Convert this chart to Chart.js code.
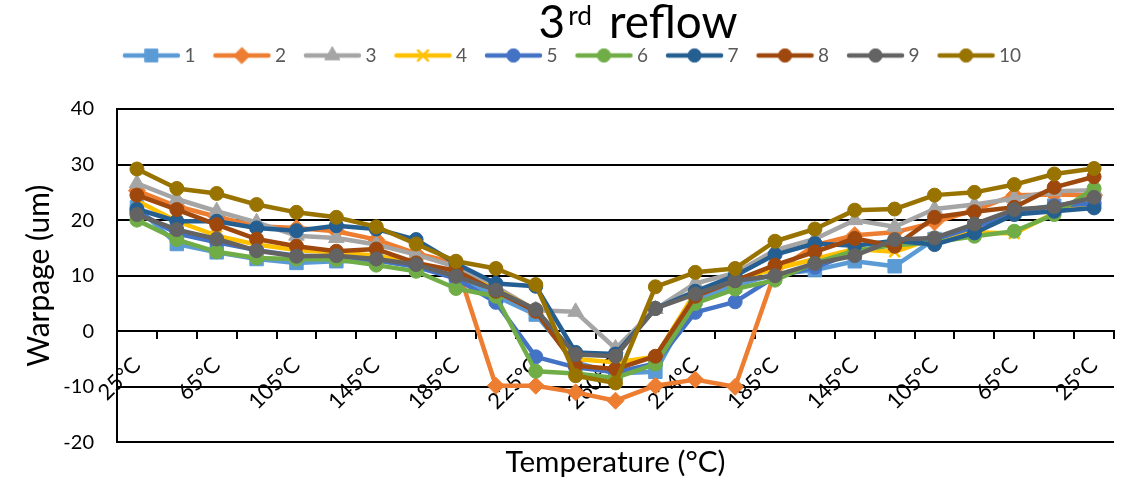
<!DOCTYPE html>
<html>
<head>
<meta charset="utf-8">
<script src="https://cdn.jsdelivr.net/npm/chart.js@4.4.1/dist/chart.umd.min.js"></script>
<style>
  html, body { margin: 0; padding: 0; background: #fff; }
  #wrap { width: 1127px; height: 482px; }
</style>
</head>
<body>
<div id="wrap"><canvas id="c" width="1127" height="482"></canvas></div>
<script>
// ---------- data ----------
const categories = ['25°C','45°C','65°C','85°C','105°C','125°C','145°C','165°C','185°C','205°C','225°C','245°C','260°C',
                    '245°C','224°C','205°C','185°C','165°C','145°C','125°C','105°C','85°C','65°C','45°C','25°C'];
const seriesNames = ['1','2','3','4','5','6','7','8','9','10'];
const s1  = [22.3,15.7,14.2,13.0,12.3,12.6,12.7,11.8,9.8,6.3,3.0,-5.6,-7.6,-7.3,5.8,8.2,10.3,11.0,12.6,11.7,16.6,18.8,21.6,22.6,23.6];
const s2  = [25.3,22.5,20.6,18.9,18.6,18.0,16.5,14.0,12.3,-9.8,-9.8,-11.0,-12.5,-9.8,-8.7,-10.0,10.6,15.5,17.3,17.8,19.6,21.8,24.5,24.6,24.5];
const s3  = [26.6,23.8,21.6,19.6,17.2,16.8,15.6,13.8,11.6,8.0,3.8,3.5,-3.1,4.0,8.6,10.5,14.6,16.6,20.0,18.8,22.0,22.8,23.9,25.2,25.4];
const s4  = [23.5,19.8,17.2,15.6,14.6,14.2,13.6,12.3,10.4,7.6,3.8,-5.0,-5.6,-4.6,7.0,9.3,11.2,13.0,14.8,14.3,16.8,17.8,17.6,21.3,23.3];
const s5  = [21.5,17.6,16.0,14.6,13.6,13.4,12.8,11.6,9.5,5.2,-4.6,-6.5,-7.4,-5.8,3.4,5.3,9.8,11.5,14.2,16.0,16.5,18.8,21.3,22.6,23.0];
const s6  = [20.0,16.5,14.3,13.2,13.0,12.9,11.9,10.8,7.7,6.3,-7.2,-7.6,-8.4,-5.9,5.0,7.6,9.2,12.3,14.5,15.5,16.0,17.1,18.0,21.0,25.7];
const s7  = [22.0,19.8,19.8,18.6,18.1,19.0,18.4,16.5,12.2,8.6,8.1,-3.8,-4.1,4.1,7.2,10.0,13.8,15.8,15.4,16.3,15.6,17.7,21.0,21.6,22.2];
const s8  = [24.5,21.9,19.2,16.6,15.3,14.4,14.8,12.3,10.9,7.2,3.6,-6.2,-6.8,-4.5,6.3,9.1,11.9,14.3,16.7,15.3,20.5,21.5,22.3,25.9,27.8];
const s9  = [21.0,18.3,16.6,14.5,13.5,13.6,13.0,12.0,9.9,7.4,3.9,-4.2,-4.5,4.1,6.7,9.1,10.0,12.2,13.6,16.5,16.8,19.3,21.9,22.4,24.1];
const s10 = [29.2,25.7,24.8,22.8,21.4,20.5,18.8,15.7,12.6,11.3,8.4,-8.0,-9.3,8.0,10.6,11.3,16.2,18.4,21.8,22.0,24.5,25.0,26.4,28.3,29.3];
const seriesValues = [s1, s2, s3, s4, s5, s6, s7, s8, s9, s10];
const yTickValues = [-20, -10, 0, 10, 20, 30, 40];
const titleMain = '3', titleSup = 'rd', titleRest = 'reflow';
const yTitle = 'Warpage (um)';
const xTitle = 'Temperature (°C)';

// ---------- styles ----------
const colors = ['#5B9BD5','#ED7D31','#A5A5A5','#FFC000','#4472C4','#70AD47','#255E91','#9E480E','#636363','#997300'];
const markers = ['rect','rectRot','triangle','crossRot','circle','circle','circle','circle','circle','circle'];
const markerRadius = [9.5, 8.5, 9, 7.5, 7, 7, 7, 7, 7, 7];
const markerBorder = [1, 1, 1, 2.5, 1, 1, 1, 1, 1, 1];
const FONT = 'Lato';

// fit a font size so that text spans a target width
const measureCtx = document.createElement('canvas').getContext('2d');
function fitSize(text, target, base) {
  measureCtx.font = base + 'px ' + FONT;
  const w = measureCtx.measureText(text).width;
  return w > 0 ? base * target / w : base;
}
const yTitleSize = fitSize(yTitle, 182, 26);
const xTitleSize = fitSize(xTitle, 220, 27);

function legendIcon(i) {
  const c = document.createElement('canvas');
  c.width = 64; c.height = 22;
  const g = c.getContext('2d');
  g.strokeStyle = colors[i]; g.lineWidth = 4.5; g.lineCap = 'round';
  g.beginPath(); g.moveTo(8, 11); g.lineTo(61, 11); g.stroke();
  g.fillStyle = colors[i]; g.strokeStyle = colors[i]; g.lineWidth = markerBorder[i];
  Chart.helpers.drawPoint(g, {pointStyle: markers[i], radius: markerRadius[i] * 0.95, borderWidth: markerBorder[i]}, 34.5, 11);
  return c;
}
const icons = seriesNames.map((_, i) => legendIcon(i));

const datasets = seriesNames.map((name, i) => ({
  label: name,
  data: seriesValues[i],
  borderColor: colors[i],
  backgroundColor: colors[i],
  borderWidth: 4.5,
  borderJoinStyle: 'round',
  borderCapStyle: 'round',
  tension: 0,
  pointStyle: markers[i],
  pointRadius: markerRadius[i],
  pointHoverRadius: markerRadius[i],
  pointBorderWidth: markerBorder[i],
  pointBackgroundColor: colors[i],
  pointBorderColor: colors[i],
  order: seriesNames.length - i
}));

const PLOT_TOP = 109;
const PAD_TOP = 28;
const PAD_LEFT = 21;
const PLOT_LEFT = 117;

const titlePlugin = {
  id: 'supTitle',
  afterDraw(chart) {
    const ctx = chart.ctx;
    ctx.save();
    ctx.fillStyle = '#000';
    ctx.textBaseline = 'alphabetic';
    ctx.textAlign = 'left';
    let bigSize = 42, smallSize = 24;
    const gap1 = 3, gap2 = 17;
    const widths = (b, s) => {
      ctx.font = b + 'px ' + FONT;
      const wm = ctx.measureText(titleMain).width, wr = ctx.measureText(titleRest).width;
      ctx.font = s + 'px ' + FONT;
      const ws = ctx.measureText(titleSup).width;
      return {wm, wr, ws, total: wm + gap1 + ws + gap2 + wr};
    };
    let w = widths(bigSize, smallSize);
    const k = (199 - gap1 - gap2) / (w.total - gap1 - gap2);
    bigSize *= k; smallSize *= k;
    w = widths(bigSize, smallSize);
    const area = chart.chartArea;
    const cx = (area.left + area.right) / 2 + 22.5;
    let x = cx - w.total / 2;
    const base = 38;
    ctx.font = bigSize + 'px ' + FONT; ctx.fillText(titleMain, x, base);
    x += w.wm + gap1;
    ctx.font = smallSize + 'px ' + FONT; ctx.fillText(titleSup, x, base - 13);
    x += w.ws + gap2;
    ctx.font = bigSize + 'px ' + FONT; ctx.fillText(titleRest, x, base);
    ctx.restore();
  }
};

new Chart(document.getElementById('c'), {
  type: 'line',
  data: { labels: categories, datasets },
  plugins: [titlePlugin],
  options: {
    responsive: false,
    devicePixelRatio: 1,
    animation: false,
    events: [],
    layout: { padding: { top: PAD_TOP, left: PAD_LEFT, right: 4, bottom: 0 } },
    scales: {
      x: {
        type: 'category',
        position: { y: 0 },
        offset: true,
        grid: { display: true, offset: true, drawOnChartArea: false, drawTicks: true, tickLength: 7, color: '#000', lineWidth: 2 },
        border: { display: true, color: '#000', width: 2 },
        ticks: {
          autoSkip: false, maxRotation: 45, minRotation: 45, padding: 14,
          font: { family: FONT, size: 22 }, color: '#000',
          callback: function(v, i) { return i % 2 === 0 ? this.getLabelForValue(v) : ''; }
        }
      },
      spacer: {
        type: 'category', axis: 'x', position: 'top', display: true,
        grid: { display: false }, border: { display: false }, ticks: { display: false },
        afterFit(s) {
          const lh = s.chart.legend ? s.chart.legend.height : 0;
          s.height = Math.max(0, PLOT_TOP - PAD_TOP - lh);
        }
      },
      y: {
        min: yTickValues[0], max: yTickValues[yTickValues.length - 1],
        afterBuildTicks(s) { s.ticks = yTickValues.map(v => ({ value: v })); },
        ticks: { font: { family: FONT, size: 20 }, color: '#000', padding: 23 },
        grid: { color: '#000', lineWidth: 2, drawTicks: false },
        border: { display: true, color: '#000', width: 2 },
        title: { display: true, text: yTitle, font: { family: FONT, size: yTitleSize }, color: '#000',
                 padding: { top: Math.max(0, 38 - PAD_LEFT - yTitleSize * 0.6), bottom: 0 } },
        afterFit(s) { s.width = PLOT_LEFT - PAD_LEFT; }
      }
    },
    plugins: {
      legend: {
        position: 'top',
        labels: {
          usePointStyle: true, pointStyleWidth: 52, padding: 18,
          font: { family: FONT, size: 19 }, color: '#595959',
          generateLabels(chart) {
            return chart.data.datasets.map((d, i) => ({
              text: d.label, fillStyle: colors[i], strokeStyle: colors[i], lineWidth: 0,
              pointStyle: icons[i], datasetIndex: i, hidden: false, fontColor: '#595959'
            }));
          }
        }
      },
      title: { display: false },
      subtitle: {
        display: true, position: 'bottom', fullSize: false, text: xTitle,
        font: { family: FONT, size: xTitleSize, weight: 'normal' }, color: '#000',
        padding: { top: 2, bottom: 2 }
      },
      tooltip: { enabled: false }
    }
  }
});
</script>
</body>
</html>
